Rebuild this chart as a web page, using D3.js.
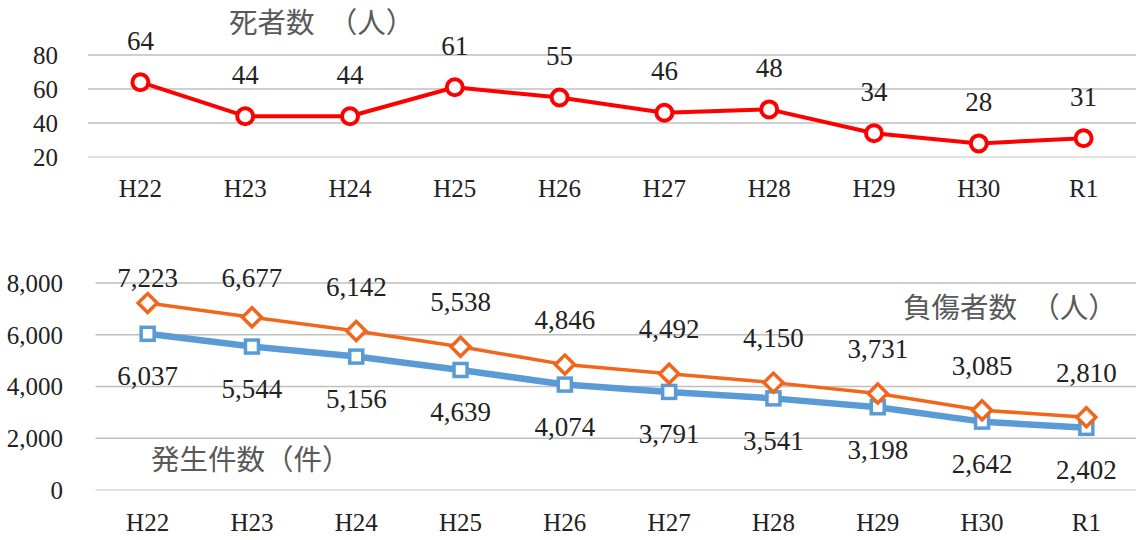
<!DOCTYPE html>
<html>
<head>
<meta charset="utf-8">
<script src="https://cdn.jsdelivr.net/npm/d3@7"></script>
<style>
  body { margin: 0; background: #fff; }
  svg { display: block; }
</style>
</head>
<body>
<svg id="chart" width="1136" height="540"></svg>
<script>
// data
const years = ['H22', 'H23', 'H24', 'H25', 'H26', 'H27', 'H28', 'H29', 'H30', 'R1']
const deaths = [64, 44, 44, 61, 55, 46, 48, 34, 28, 31]
const injured = [7223, 6677, 6142, 5538, 4846, 4492, 4150, 3731, 3085, 2810]
const accidents = [6037, 5544, 5156, 4639, 4074, 3791, 3541, 3198, 2642, 2402]
const topTicks = [20, 40, 60, 80]
const bottomTicks = [0, 2000, 4000, 6000, 8000]

const svg = d3.select('#chart')
const numFont = "'Liberation Serif', serif"
const jpFont = "'Noto Sans CJK JP', sans-serif"
const fmt = d3.format(',')

const RED = '#FF0000', ORANGE = '#F2661C', BLUE = '#5B9BD5'

function gridAndAxes(x, y, ticks, labelX, tickFmt, xLabelY) {
    const g = svg.append('g')
    g.selectAll('line.grid')
        .data(ticks)
        .join('line')
        .attr('x1', x.range()[0])
        .attr('x2', 1136)
        .attr('y1', d => y(d))
        .attr('y2', d => y(d))
        .attr('stroke', (d, i) => i === 0 ? '#D9D9D9' : '#BFBFBF')
        .attr('stroke-width', 1.5)

    g.selectAll('text.ytick')
        .data(ticks)
        .join('text')
        .attr('x', labelX)
        .attr('y', d => y(d))
        .attr('dy', '0.35em')
        .attr('text-anchor', 'end')
        .style('font-family', numFont)
        .style('font-size', '25px')
        .attr('fill', '#222')
        .text(tickFmt)

    g.selectAll('text.xtick')
        .data(years)
        .join('text')
        .attr('x', d => x(d) + x.bandwidth() / 2)
        .attr('y', xLabelY)
        .attr('dy', '0.35em')
        .attr('text-anchor', 'middle')
        .style('font-family', numFont)
        .style('font-size', '25px')
        .attr('fill', '#222')
        .text(d => d)
}

function series(x, y, values, color, width) {
    const cx = (d, i) => x(years[i]) + x.bandwidth() / 2
    svg.append('path')
        .datum(values)
        .attr('fill', 'none')
        .attr('stroke', color)
        .attr('stroke-width', width)
        .attr('stroke-linejoin', 'round')
        .attr('d', d3.line().x(cx).y(d => y(d)))
    return cx
}

function labels(cx, y, values, offset, minY) {
    svg.append('g')
        .selectAll('text')
        .data(values)
        .join('text')
        .attr('x', cx)
        .attr('y', d => Math.max(y(d) + offset, minY))
        .attr('dy', '0.35em')
        .attr('text-anchor', 'middle')
        .style('font-family', numFont)
        .style('font-size', '27px')
        .attr('fill', '#222')
        .text(d => fmt(d))
}

// top chart: deaths
const xTop = d3.scaleBand().domain(years).range([88, 1136])
const yTop = d3.scaleLinear().domain([20, 80]).range([157, 55])
gridAndAxes(xTop, yTop, topTicks, 58, d => d, 188)

const cxTop = series(xTop, yTop, deaths, RED, 4)
svg.append('g')
    .selectAll('circle')
    .data(deaths)
    .join('circle')
    .attr('cx', cxTop)
    .attr('cy', d => yTop(d))
    .attr('r', 8)
    .attr('fill', '#fff')
    .attr('stroke', RED)
    .attr('stroke-width', 4)
labels(cxTop, yTop, deaths, -42, -100)

// bottom chart: injured + accidents
const xBot = d3.scaleBand().domain(years).range([95.5, 1138.5])
const yBot = d3.scaleLinear().domain([0, 8000]).range([490, 283])
gridAndAxes(xBot, yBot, bottomTicks, 63, d => fmt(d), 522)

const cxBot = series(xBot, yBot, accidents, BLUE, 6.5)
svg.append('g')
    .selectAll('rect')
    .data(accidents)
    .join('rect')
    .attr('x', (d, i) => cxBot(d, i) - 6.5)
    .attr('y', d => yBot(d) - 6.5)
    .attr('width', 13)
    .attr('height', 13)
    .attr('fill', '#fff')
    .attr('stroke', BLUE)
    .attr('stroke-width', 3.5)

series(xBot, yBot, injured, ORANGE, 3.5)
svg.append('g')
    .selectAll('path')
    .data(injured)
    .join('path')
    .attr('transform', (d, i) => `translate(${cxBot(d, i)},${yBot(d)})`)
    .attr('d', 'M0,-9.5L9.5,0L0,9.5L-9.5,0Z')
    .attr('fill', '#fff')
    .attr('stroke', ORANGE)
    .attr('stroke-width', 3.5)

labels(cxBot, yBot, injured, -45, 278)
labels(cxBot, yBot, accidents, 42, -100)

// titles
const titles = [
    { text: '死者数　（人）', x: 229, y: 23 },
    { text: '負傷者数　（人）', x: 903, y: 308 },
    { text: '発生件数（件）', x: 151, y: 460 }
]
svg.append('g')
    .selectAll('text')
    .data(titles)
    .join('text')
    .attr('x', d => d.x)
    .attr('y', d => d.y)
    .attr('dy', '0.36em')
    .style('font-family', jpFont)
    .style('font-size', '28.5px')
    .attr('fill', '#595959')
    .text(d => d.text)
</script>
</body>
</html>
